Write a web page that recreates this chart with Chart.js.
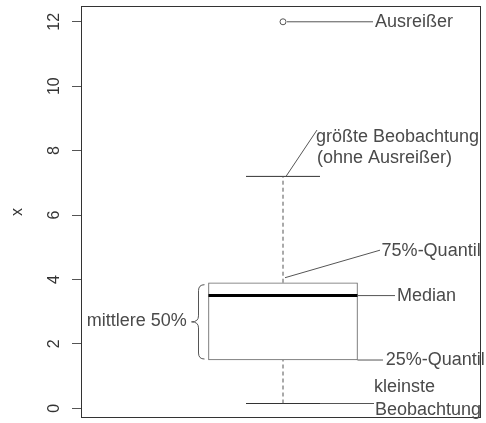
<!DOCTYPE html>
<html>
<head>
<meta charset="utf-8">
<script src="https://cdn.jsdelivr.net/npm/chart.js@4"></script>
<style>
  html, body { margin: 0; padding: 0; background: #ffffff; }
  #wrap { width: 486px; height: 423px; position: relative; }
</style>
</head>
<body>
<div id="wrap"><canvas id="c"></canvas></div>
<script>
// ---- data (five-number summary of x) ----
const whiskerLow  = 0.15;   // kleinste Beobachtung
const quartile1   = 1.5;    // 25%-Quantil
const median      = 3.5;    // Median
const quartile3   = 3.9;    // 75%-Quantil
const whiskerHigh = 7.2;    // größte Beobachtung (ohne Ausreißer)
const outliers    = [12];   // Ausreißer
const yTicks      = [0, 2, 4, 6, 8, 10, 12];
const axisTitle   = 'x';
const annotationLabels = ['Ausreißer', 'größte Beobachtung', '(ohne Ausreißer)',
  '75%-Quantil', 'Median', '25%-Quantil', 'kleinste', 'Beobachtung', 'mittlere 50%'];

// ---- layout constants (hidden x axis runs 0..2) ----
const C = 1.01, BOX_HALF = 0.3725, CAP_HALF = 0.185;
const TEXT_COLOR = '#4a4a4a', LINE_COLOR = '#555555';
const ANN_FONT = '18px "Liberation Sans", Arial, Helvetica, sans-serif';

const boxData      = [{x: C, y: [quartile1, quartile3]}];
const medianData   = [{x: C - BOX_HALF, y: median}, {x: C + BOX_HALF, y: median}];
const upperWhisker = [{x: C, y: quartile3}, {x: C, y: whiskerHigh}];
const lowerWhisker = [{x: C, y: whiskerLow}, {x: C, y: quartile1}];
const upperCap     = [{x: C - CAP_HALF, y: whiskerHigh}, {x: C + CAP_HALF, y: whiskerHigh}];
const lowerCap     = [{x: C - CAP_HALF, y: whiskerLow}, {x: C + CAP_HALF, y: whiskerLow}];
const outlierData  = outliers.map(v => ({x: C, y: v}));

// leader lines: from a mark (data units + pixel nudge) to the label (data units)
const leaders = [
  {from: [C, outliers[0]], dx: 4, to: [1.46, outliers[0]]},
  {from: [C, whiskerHigh], dx: 3, to: [1.18, 8.64]},
  {from: [C, quartile3], dx: 2, dy: -5, to: [1.495, 4.91]},
  {from: [C + BOX_HALF, median], to: [1.57, median]},
  {from: [C + BOX_HALF, quartile1], to: [1.51, quartile1]},
  {from: [C + CAP_HALF, whiskerLow], to: [1.465, whiskerLow]}
];
const labelPos = [
  {x: 1.47,  y: outliers[0]},
  {x: 1.175, y: 8.43},
  {x: 1.18,  y: 7.78},
  {x: 1.503, y: 4.88},
  {x: 1.58,  y: median},
  {x: 1.524, y: quartile1},
  {x: 1.465, y: 0.66},
  {x: 1.47,  y: -0.04},
  {x: 0.5285, y: (quartile1 + quartile3) / 2, align: 'right'}
];

const annotationPlugin = {
  id: 'boxAnnotations',
  afterDatasetsDraw(chart) {
    const {ctx, chartArea: a, scales: {x, y}} = chart;
    const px = v => x.getPixelForValue(v), py = v => y.getPixelForValue(v);
    ctx.save();
    // frame
    ctx.strokeStyle = '#333333';
    ctx.lineWidth = 1;
    ctx.strokeRect(a.left + 0.5, a.top + 0.5, a.width - 1, a.height - 1);
    // leaders
    ctx.strokeStyle = LINE_COLOR;
    leaders.forEach(l => {
      ctx.beginPath();
      ctx.moveTo(px(l.from[0]) + (l.dx || 0), py(l.from[1]) + (l.dy || 0));
      ctx.lineTo(px(l.to[0]), py(l.to[1]));
      ctx.stroke();
    });
    // brace for the middle 50%
    const xe = px(C - BOX_HALF) - 4, xm = xe - 6, xt = xe - 13;
    const yt = py(quartile3) + 2, yb = py(quartile1) - 1, yc = (yt + yb) / 2, r = 6;
    ctx.beginPath();
    ctx.moveTo(xe, yt);
    ctx.quadraticCurveTo(xm, yt, xm, yt + r);
    ctx.lineTo(xm, yc - r);
    ctx.quadraticCurveTo(xm, yc, xt, yc);
    ctx.quadraticCurveTo(xm, yc, xm, yc + r);
    ctx.lineTo(xm, yb - r);
    ctx.quadraticCurveTo(xm, yb, xe, yb);
    ctx.stroke();
    // labels
    ctx.font = ANN_FONT;
    ctx.fillStyle = TEXT_COLOR;
    ctx.textBaseline = 'middle';
    annotationLabels.forEach((t, i) => {
      const p = labelPos[i];
      ctx.textAlign = p.align || 'left';
      ctx.fillText(t, px(p.x), py(p.y));
    });
    ctx.restore();
  }
};

new Chart(document.getElementById('c'), {
  type: 'line',
  data: {
    datasets: [
      {type: 'line', data: medianData, borderColor: '#000000', borderWidth: 3,
       pointRadius: 0, borderCapStyle: 'butt', order: 0},
      {type: 'line', data: upperWhisker, borderColor: LINE_COLOR, borderWidth: 1,
       borderDash: [4, 3], pointRadius: 0, order: 1},
      {type: 'line', data: lowerWhisker, borderColor: LINE_COLOR, borderWidth: 1,
       borderDash: [4, 3], pointRadius: 0, order: 1},
      {type: 'line', data: upperCap, borderColor: '#333333', borderWidth: 1, pointRadius: 0, order: 1},
      {type: 'line', data: lowerCap, borderColor: '#333333', borderWidth: 1, pointRadius: 0, order: 1},
      {type: 'scatter', data: outlierData, pointRadius: 3, pointBorderWidth: 1,
       pointBorderColor: LINE_COLOR, pointBackgroundColor: '#ffffff', showLine: false, order: 1},
      {type: 'bar', data: boxData, barThickness: 149, borderWidth: 1, borderColor: '#666666',
       backgroundColor: '#ffffff', borderSkipped: false, grouped: false, order: 5}
    ]
  },
  options: {
    responsive: true,
    maintainAspectRatio: false,
    animation: false,
    devicePixelRatio: 1,
    layout: {padding: {left: 0, top: 6, right: 5, bottom: 2}},
    plugins: {legend: {display: false}, tooltip: {enabled: false}},
    scales: {
      x: {type: 'linear', min: 0, max: 2, display: false, offset: false, grid: {offset: false}},
      y: {
        type: 'linear', min: -0.3, max: 12.49,
        afterBuildTicks: s => { s.ticks = yTicks.map(v => ({value: v})); },
        afterFit: s => { s.width = 81; s.paddingTop = 0; s.paddingBottom = 0; },
        border: {display: false},
        grid: {drawOnChartArea: false, drawTicks: true, tickLength: 9, tickColor: '#555555', color: '#555555'},
        ticks: {
          font: {family: '"Liberation Sans", Arial, sans-serif', size: 16},
          color: '#333333', padding: 9, crossAlign: 'center',
          minRotation: 90, maxRotation: 90, includeBounds: false
        },
        title: {
          display: true, text: axisTitle, color: '#333333',
          font: {family: '"Liberation Sans", Arial, sans-serif', size: 16},
          padding: {top: 8, bottom: 0}
        }
      }
    }
  },
  plugins: [annotationPlugin]
});
</script>
</body>
</html>
